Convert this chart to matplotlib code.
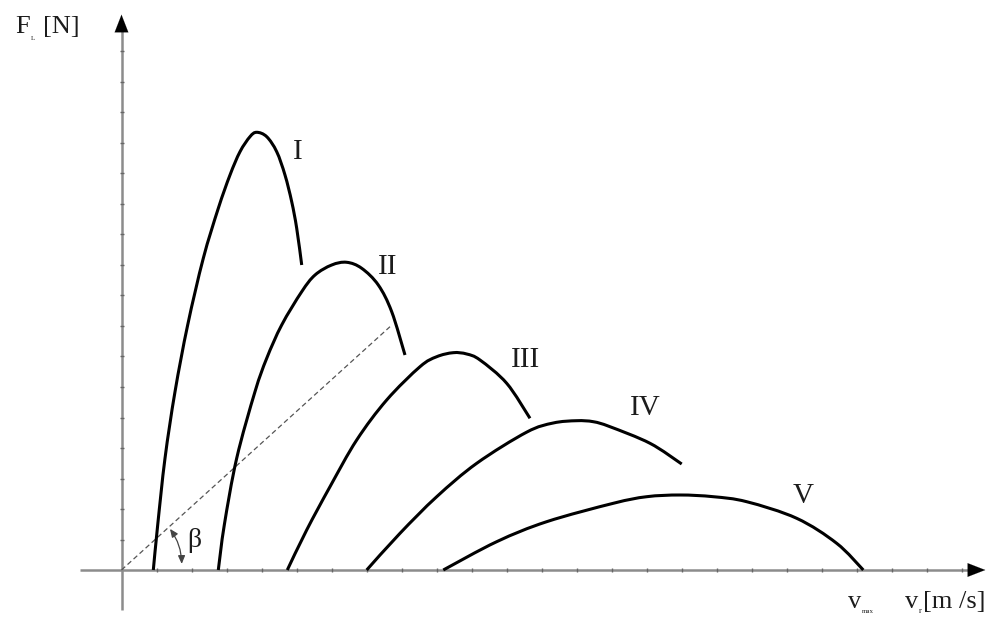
import numpy as np
import matplotlib
matplotlib.use("Agg")
import matplotlib.pyplot as plt
from matplotlib.patches import FancyArrowPatch, PathPatch
from matplotlib.path import Path

# ---- data (axis units = tick spacings) ----
v_I = [0.909, 1.034, 1.243, 1.529, 1.891, 2.337, 2.766, 3.1, 3.386, 3.671, 3.863, 4.149, 4.434, 4.671, 4.863, 5.006, 5.149]
F_I = [0.0, 1.475, 3.662, 5.846, 8.033, 10.22, 11.859, 12.951, 13.715, 14.207, 14.351, 14.207, 13.715, 12.951, 12.075, 11.203, 10.0]

v_II = [2.766, 2.937, 3.291, 3.814, 4.149, 4.577, 5.149, 5.529, 6.006, 6.434, 6.863, 7.337, 7.72, 8.1]
F_II = [0.0, 1.475, 3.662, 5.846, 6.941, 8.033, 9.125, 9.672, 10.0, 10.089, 9.892, 9.344, 8.469, 7.049]

v_III = [4.737, 5.291, 5.957, 6.72, 7.577, 8.529, 9.006, 9.48, 9.863, 10.243, 11.006, 11.671]
F_III = [0.0, 1.311, 2.731, 4.262, 5.574, 6.666, 6.993, 7.125, 7.082, 6.885, 6.121, 4.974]

v_IV = [7.006, 7.957, 9.006, 10.149, 11.577, 12.337, 13.006, 13.48, 13.957, 15.1, 16.006]
F_IV = [0.0, 1.203, 2.403, 3.498, 4.52, 4.82, 4.895, 4.862, 4.698, 4.154, 3.475]

v_V = [9.194, 10.72, 12.149, 14.051, 15.006, 15.957, 16.909, 17.863, 19.291, 20.434, 21.194]
F_V = [0.0, 0.928, 1.584, 2.187, 2.403, 2.459, 2.403, 2.239, 1.695, 0.875, 0.0]

curve_labels = ["I", "II", "III", "IV", "V"]
label_v = [5.043, 7.614, 11.557, 14.957, 19.471]
label_F = [13.705, 9.934, 6.885, 5.311, 2.426]

dash_end = (7.671, 7.977)
x_ticks = list(range(1, 25))
y_ticks = list(range(1, 18))


def smooth_path(xs, ys):
    """Cubic Bezier path through the read points (Catmull-Rom control points)."""
    P = np.column_stack([xs, ys]).astype(float)
    n = len(P)
    verts = [P[0]]
    codes = [Path.MOVETO]
    for i in range(n - 1):
        p0 = P[i - 1] if i > 0 else P[i]
        p1 = P[i]
        p2 = P[i + 1]
        p3 = P[i + 2] if i + 2 < n else P[i + 1]
        c1 = p1 + (p2 - p0) / 6.0
        c2 = p2 - (p3 - p1) / 6.0
        verts += [c1, c2, p2]
        codes += [Path.CURVE4] * 3
    return Path(verts, codes)


# ---- figure ----
fig = plt.figure(figsize=(9.9, 6.18), dpi=100)
ax = fig.add_axes([0, 0, 1, 1])
ax.set_xlim(-121.5 / 35, (990 - 121.5) / 35)
ax.set_ylim(-48 / 30.5, 570 / 30.5)
ax.axis("off")

serif = ["Liberation Serif", "DejaVu Serif"]
axis_col = "#8c8c8c"
txt_col = "#1c1c1c"

# axes
x_left, x_tip = -1.19, 24.76
y_bot, y_tip = -1.31, 18.30
ax.plot([x_left, x_tip - 0.3], [0, 0], color=axis_col, lw=1.8, solid_capstyle="butt", zorder=1)
ax.plot([0, 0], [y_bot, y_tip - 0.35], color=axis_col, lw=1.8, solid_capstyle="butt", zorder=1)
ax.annotate("", xy=(x_tip, 0), xytext=(x_tip - 0.6, 0),
            arrowprops=dict(arrowstyle="-|>,head_length=0.9,head_width=0.35", color="black", lw=0.1, mutation_scale=14))
ax.annotate("", xy=(0, y_tip), xytext=(0, y_tip - 0.6),
            arrowprops=dict(arrowstyle="-|>,head_length=0.9,head_width=0.35", color="black", lw=0.1, mutation_scale=14))

# ticks
ax.plot(x_ticks, [0] * len(x_ticks), ls="none", marker="|", ms=3.5, mew=1.0, color="#666666", zorder=2)
ax.plot([0] * len(y_ticks), y_ticks, ls="none", marker="_", ms=3.5, mew=1.0, color="#666666", zorder=2)

# dashed line
ax.plot([0, dash_end[0]], [0, dash_end[1]], color="#555555", lw=0.9, ls=(0, (4, 2.5)), zorder=2)

# beta arc
arc = FancyArrowPatch((1.72, 0.108), (1.337, 1.42), connectionstyle="arc3,rad=0.18",
                      arrowstyle="<|-|>,head_length=3,head_width=1.3", color="#444444", lw=0.9,
                      mutation_scale=1.6, zorder=3)
ax.add_patch(arc)
ax.text(2.071, 0.951, "β", fontsize=20, family=serif, ha="center", va="center", color=txt_col)

# curves
for v, F in [(v_I, F_I), (v_II, F_II), (v_III, F_III), (v_IV, F_IV), (v_V, F_V)]:
    ax.add_patch(PathPatch(smooth_path(v, F), facecolor="none", edgecolor="black",
                           lw=2.2, capstyle="butt", joinstyle="round", zorder=4))

for lab, xv, yv in zip(curve_labels, label_v, label_F):
    ax.text(xv, yv, lab, fontsize=21, family=serif, ha="center", va="center", color=txt_col)

# axis labels
ax.text(-3.043, 17.607, "F", fontsize=19, family=serif, ha="left", va="baseline", color=txt_col)
ax.text(-2.60, 17.38, "L", fontsize=5, family=serif, ha="left", va="baseline", color=txt_col)
ax.text(-2.243, 17.607, "[N]", fontsize=19, family=serif, ha="left", va="baseline", color=txt_col)

ax.text(20.757, -1.246, "v", fontsize=19, family=serif, ha="left", va="baseline", color=txt_col)
ax.text(21.15, -1.41, "max", fontsize=5, family=serif, ha="left", va="baseline", color=txt_col)
ax.text(22.386, -1.246, "v", fontsize=19, family=serif, ha="left", va="baseline", color=txt_col)
ax.text(22.78, -1.41, "r", fontsize=6, family=serif, ha="left", va="baseline", color=txt_col)
ax.text(22.90, -1.246, "[m /s]", fontsize=19, family=serif, ha="left", va="baseline", color=txt_col)

fig.savefig("out.png", dpi=100)
